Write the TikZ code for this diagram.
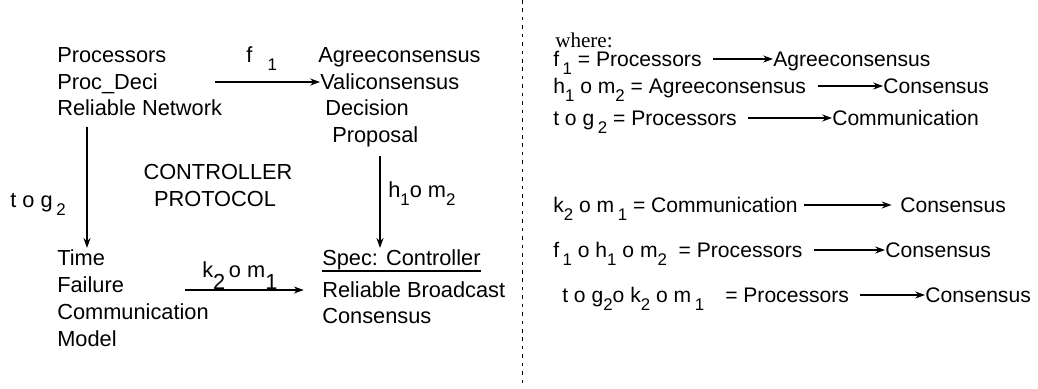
\documentclass[tikz,border=0pt]{standalone}
\usepackage{fontspec}
\setmainfont{Liberation Sans}
\newfontfamily\whfont{Liberation Serif}
\usetikzlibrary{positioning,arrows.meta}
\newcommand{\lowr}[1]{\raisebox{-0.4em}{\fontsize{12}{14}\selectfont #1}}

\begin{document}
\begin{tikzpicture}[x=0.025cm,y=-0.025cm,
  >={Stealth[length=7pt,width=5pt]},
  txt/.style={inner sep=0pt,anchor=west,text height=12pt,text depth=2pt,font=\fontsize{15.5}{18}\selectfont},
  rtxt/.style={txt,font=\fontsize{15}{18}\selectfont},
  arr/.style={->,thick}
]
\useasboundingbox (0,0) rectangle (1038,388);

% left part: the two specifications
\node[txt] (proc) at (57,55) {Processors};
\node[txt] (procdeci) at (57,82) {Proc\_Deci};
\node[txt] (relnet) at (57,108) {Reliable Network};
\node[txt] (agree) at (318,55) {Agreeconsensus};
\node[txt] (vali) at (320,82) {Valiconsensus};
\node[txt] (decis) at (325,108) {Decision};
\node[txt] (propo) at (332,135) {Proposal};

\node[txt,anchor=center] (ctrl) at (218,172) {CONTROLLER};
\node[txt,anchor=center] (prot) at (215,199) {PROTOCOL};

\node[txt] (time) at (57,258) {Time};
\node[txt] (fail) at (57,285) {Failure};
\node[txt] (comm) at (57,312) {Communication};
\node[txt] (model) at (57,339) {Model};
\node[txt] (spec) at (322,258) {Spec: Controller};
\node[txt] (relb) at (322,290) {Reliable Broadcast};
\node[txt] (cons) at (322,316) {Consensus};
\draw[thick] ([yshift=-2pt]spec.south west) -- ([yshift=-2pt]spec.south east);

% mappings
\coordinate (fstart) at (215,82);
\coordinate (kstart) at (185,290);
\coordinate (lcol) at (87,0);
\coordinate (rcol) at (380,0);
\node[txt] (flab) at (246,55) {f\hspace{0.7em}\lowr{1}};
\node[txt] (hlab) at (388,190) {h\lowr{1}o m\lowr{2}};
\node[txt] (glab) at (10,200) {t o g\,\lowr{2}};
\node[txt] (klab) at (202,270) {k\raisebox{-9pt}{2}\,o m\raisebox{-9pt}{1}};

\draw[arr] (fstart) -- (vali.west);
\draw[arr,shorten <=6pt] (relnet.south -| lcol) -- (time.north -| lcol);
\draw[arr,shorten <=8pt] (propo.south -| rcol) -- (spec.north -| rcol);
\draw[arr,shorten >=13pt] (kstart) -- (relb.west);

% separator
\draw[dash pattern=on 2.5pt off 3.5pt] (522,0) -- (522,388);

% right part: the compositions
\node[rtxt,font=\whfont\fontsize{15}{18}\selectfont] (where) at (555,40) {where:};
\node[rtxt] (fa) at (553,59) {f\,\lowr{1} = Processors};
\node[rtxt] (fb) at (773,59) {Agreeconsensus};
\node[rtxt] (ha) at (553,86) {h\lowr{1} o m\lowr{2} = Agreeconsensus};
\node[rtxt] (hb) at (883,86) {Consensus};
\node[rtxt] (ta) at (553,118) {t o g\,\lowr{2} = Processors};
\node[rtxt] (tb) at (832,118) {Communication};
\node[rtxt] (ka) at (553,205) {k\lowr{2} o m\,\lowr{1} = Communication};
\node[rtxt] (kb) at (900,205) {Consensus};
\node[rtxt] (fha) at (553,250) {f\,\lowr{1} o h\lowr{1} o m\lowr{2}\ \ = Processors};
\node[rtxt] (fhb) at (885,250) {Consensus};
\node[rtxt] (tka) at (562,295) {t o g\lowr{2}o k\lowr{2} o m\,\lowr{1}\quad = Processors};
\node[rtxt] (tkb) at (925,295) {Consensus};

\draw[arr,shorten <=8pt] (fa.east |- fb.west) -- (fb.west);
\draw[arr,shorten <=8pt] (ha.east |- hb.west) -- (hb.west);
\draw[arr,shorten <=8pt] (ta.east |- tb.west) -- (tb.west);
\draw[arr,shorten <=4pt,shorten >=6pt] (ka.east |- kb.west) -- (kb.west);
\draw[arr,shorten <=8pt] (fha.east |- fhb.west) -- (fhb.west);
\draw[arr,shorten <=8pt] (tka.east |- tkb.west) -- (tkb.west);
\end{tikzpicture}
\end{document}
